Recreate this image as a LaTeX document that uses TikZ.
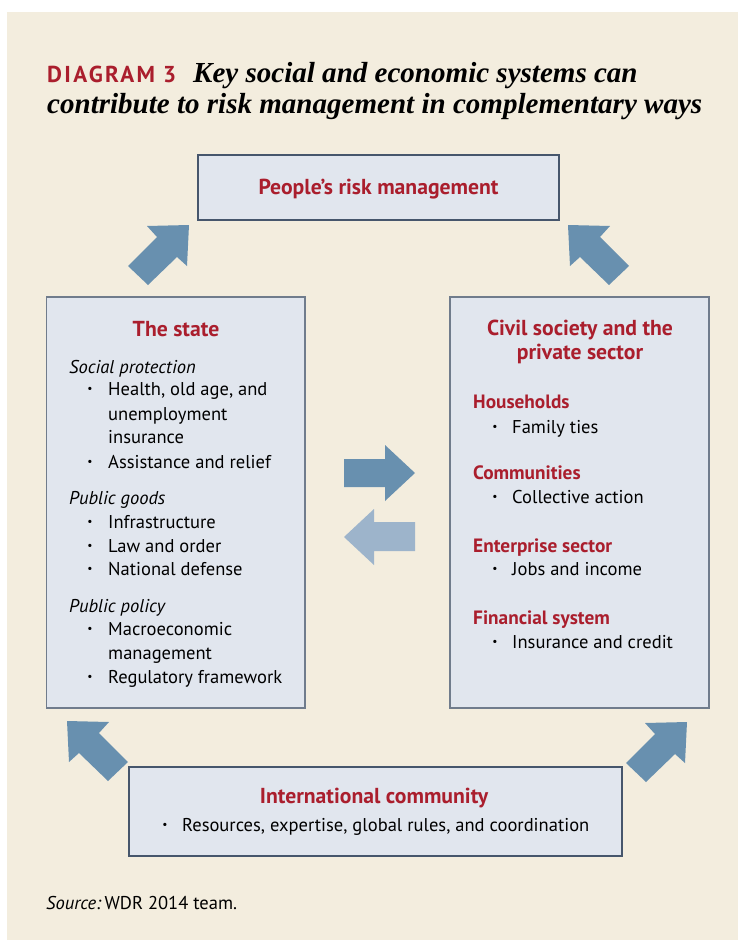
\documentclass[tikz,border=0pt]{standalone}
\usepackage{fontspec}
\setmainfont{PT Sans}
\newfontfamily\titlefont{Liberation Serif}
\newfontfamily\diagfont[LetterSpace=10]{PT Sans}
\definecolor{bgc}{RGB}{243,237,222}
\definecolor{boxfill}{RGB}{225,230,238}
\definecolor{boxline}{RGB}{112,124,140}
\definecolor{boxdark}{RGB}{70,86,108}
\definecolor{wbred}{RGB}{170,30,45}
\definecolor{arrowdark}{RGB}{104,144,175}
\definecolor{arrowlight}{RGB}{157,180,203}
\newlength\tmpw
\newcommand\bodyfont{\fontsize{\bsz pt}{\bsz pt}\selectfont}
\newcommand\bltfont{\fontsize{\bltsz pt}{\bltsz pt}\selectfont}
\newcommand\headfont{\bfseries\fontsize{\hdsz pt}{\hdsz pt}\selectfont}
\newcommand\subfont{\bfseries\fontsize{\ssz pt}{\ssz pt}\selectfont}
\newcommand\ttlfont{\titlefont\bfseries\itshape\fontsize{\tsz pt}{\tsz pt}\selectfont}
\newcommand\dgfont{\diagfont\bfseries\fontsize{\dgsz pt}{\dgsz pt}\selectfont}
\tikzset{
  box/.style={draw=boxline, fill=boxfill, line width=1.2pt, inner sep=0pt},
  boxd/.style={box, draw=boxdark},
  txt/.style={anchor=base west, inner sep=0pt, font=\bodyfont},
  ital/.style={anchor=base west, inner sep=0pt, font=\bodyfont\itshape},
  blt/.style={anchor=center, inner sep=0pt, font=\bltfont},
  head/.style={anchor=base, inner sep=0pt, text=wbred, font=\headfont},
  sub/.style={anchor=base west, inner sep=0pt, text=wbred, font=\subfont},
  darrow/.style={fill=arrowdark},
  larrow/.style={fill=arrowlight}
}
\begin{document}
% font sizes fitted to measured widths
\settowidth\tmpw{\normalfont\fontsize{10pt}{10pt}\selectfont Regulatory framework}%
\pgfmathsetmacro\bsz{10*174/\tmpw}%
\pgfmathsetmacro\bltsz{0.62*\bsz}%
\settowidth\tmpw{\normalfont\bfseries\fontsize{10pt}{10pt}\selectfont Civil society and the}%
\pgfmathsetmacro\hdsz{10*186/\tmpw}%
\settowidth\tmpw{\normalfont\bfseries\fontsize{10pt}{10pt}\selectfont Enterprise sector}%
\pgfmathsetmacro\ssz{10*139/\tmpw}%
\settowidth\tmpw{\titlefont\bfseries\itshape\fontsize{10pt}{10pt}\selectfont contribute to risk management in complementary ways}%
\pgfmathsetmacro\tsz{10*655/\tmpw}%
\settowidth\tmpw{\diagfont\bfseries\fontsize{10pt}{10pt}\selectfont DIAGRAM 3}%
\pgfmathsetmacro\dgsz{10*129/\tmpw}%
\begin{tikzpicture}[x=1pt,y=-1pt]
\useasboundingbox (0,0) rectangle (738,940);
\fill[bgc] (7,12) rectangle (738,940);

% title
\node[anchor=base west, inner sep=0pt, text=wbred, font=\dgfont] (dg) at (47,82) {DIAGRAM 3};
\node[anchor=base west, inner sep=0pt, font=\ttlfont] (t1) at (193,82) {Key social and economic systems can};
\node[anchor=base west, inner sep=0pt, font=\ttlfont] (t2) at (47,113) {contribute to risk management in complementary ways};

% boxes
\node[boxd, minimum width=361pt, minimum height=65pt] (top) at (378.5,187.5) {};
\node[box, minimum width=258.5pt, minimum height=411pt] (left) at (175.75,502.5) {};
\node[box, minimum width=259pt, minimum height=411pt] (right) at (579.5,502.5) {};
\node[boxd, minimum width=493pt, minimum height=89pt] (bottom) at (375.5,811.5) {};

% top box text
\node[head] (ptop) at (378.5,194) {People’s risk management};

% left box text
\node[head] (ls) at (176,336) {The state};
\node[ital] (l1) at (69,373) {Social protection};
\node[blt] (lb1) at (90,390) {\textbullet};
\node[txt] (l2) at (108,395) {Health, old age, and};
\node[txt] (l3) at (108,420) {unemployment};
\node[txt] (l4) at (108,443) {insurance};
\node[blt] (lb2) at (90,463) {\textbullet};
\node[txt] (l5) at (108,468) {Assistance and relief};
\node[ital] (l6) at (69,504) {Public goods};
\node[blt] (lb3) at (90,523) {\textbullet};
\node[txt] (l7) at (108,528) {Infrastructure};
\node[blt] (lb4) at (90,547) {\textbullet};
\node[txt] (l8) at (108,552) {Law and order};
\node[blt] (lb5) at (90,570) {\textbullet};
\node[txt] (l9) at (108,575) {National defense};
\node[ital] (l10) at (69,612) {Public policy};
\node[blt] (lb6) at (90,630) {\textbullet};
\node[txt] (l11) at (108,635) {Macroeconomic};
\node[txt] (l12) at (108,659) {management};
\node[blt] (lb7) at (90,678) {\textbullet};
\node[txt] (l13) at (108,683) {Regulatory framework};

% right box text
\node[head] (rs1) at (580,335) {Civil society and the};
\node[head] (rs2) at (580,359) {private sector};
\node[sub] (r1) at (473,408) {Households};
\node[blt] (rb1) at (495,428) {\textbullet};
\node[txt] (r2) at (512,433) {Family ties};
\node[sub] (r3) at (473,479) {Communities};
\node[blt] (rb2) at (495,498) {\textbullet};
\node[txt] (r4) at (512,503) {Collective action};
\node[sub] (r5) at (473,552) {Enterprise sector};
\node[blt] (rb3) at (495,570) {\textbullet};
\node[txt] (r6) at (512,575) {Jobs and income};
\node[sub] (r7) at (473,624) {Financial system};
\node[blt] (rb4) at (495,643) {\textbullet};
\node[txt] (r8) at (512,648) {Insurance and credit};

% bottom box text
\node[head] (ic) at (374,803) {International community};
\node[blt] (bb1) at (165,826) {\textbullet};
\node[txt] (b1) at (182,831) {Resources, expertise, global rules, and coordination};

% source
\node[anchor=base west, inner sep=0pt, font=\bodyfont] (src) at (46,909) {\textit{Source:}\,WDR 2014 team.};

% block arrows
\fill[darrow] (344,459) -- (385,459) -- (385,445) -- (415,473) -- (385,501) -- (385,487) -- (344,487) -- cycle;
\fill[larrow] (415,522) -- (374,522) -- (374,509) -- (344,537) -- (374,565) -- (374,551) -- (415,551) -- cycle;
% top-right (points up-left)
\fill[darrow] (568,225) -- (610,226) -- (600,237) -- (629,266) -- (609,285) -- (580,257) -- (570,266) -- cycle;
% top-left (points up-right)
\fill[darrow] (189,225) -- (147,226) -- (157,237) -- (128,266) -- (148,285) -- (177,257) -- (187,266) -- cycle;
% bottom-left (points up-left)
\fill[darrow] (67,721) -- (109,722) -- (99,733) -- (128,762) -- (108,781) -- (79,753) -- (69,762) -- cycle;
% bottom-right (points up-right)
\fill[darrow] (687,722) -- (645,723) -- (655,734) -- (626,763) -- (646,782) -- (675,754) -- (685,763) -- cycle;
\end{tikzpicture}
\end{document}
